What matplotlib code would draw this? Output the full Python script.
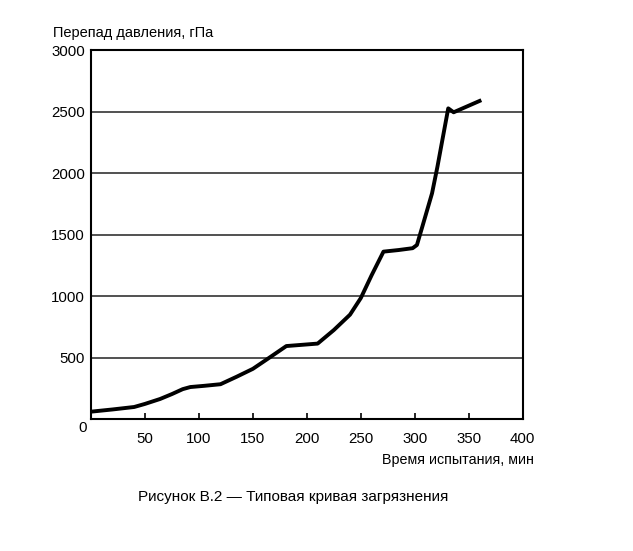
import numpy as np
import matplotlib
matplotlib.use("Agg")
import matplotlib.pyplot as plt

plt.rcParams['font.family'] = ['Liberation Sans', 'DejaVu Sans']

# время, мин / перепад давления, гПа
t_min = [0, 20, 40, 50, 64, 75, 85, 92, 105, 120, 135, 150, 163, 181, 210, 225,
         240, 250, 260, 271, 285, 298, 302, 307, 316, 321, 325, 331, 336, 360]
dp_hpa = [62, 80, 100, 125, 165, 205, 245, 262, 272, 285, 346, 410, 487, 595, 615, 725,
          850, 985, 1170, 1362, 1375, 1390, 1416, 1565, 1836, 2052, 2242, 2526, 2494, 2586]

xticks = [50, 100, 150, 200, 250, 300, 350, 400]
yticks = [500, 1000, 1500, 2000, 2500, 3000]

W, H = 633, 551
fig = plt.figure(figsize=(W / 100, H / 100), dpi=100)
ax = fig.add_axes([91 / W, 1 - 419.3 / H, (522.7 - 91) / W, (419.3 - 50) / H])

ax.plot(t_min, dp_hpa, color='black', lw=2.8, solid_joinstyle='round')

ax.set_xlim(0, 400)
ax.set_ylim(0, 3000)
ax.set_xticks(xticks)
ax.set_yticks(yticks)
ax.tick_params(axis='x', direction='in', length=4, width=1.2, pad=9, labelsize=10.8)
ax.tick_params(axis='y', length=0, pad=4.5, labelsize=10.8)
for y in yticks[:-1]:
    ax.axhline(y, color='#222222', lw=1.1, zorder=1)
for s in ax.spines.values():
    s.set_linewidth(1.5)

fx = lambda px: px / W
fy = lambda py: 1 - py / H
fig.text(fx(83), fy(428), '0', fontsize=10.8, ha='center', va='center')
fig.text(fx(53), fy(33), 'Перепад давления, гПа', fontsize=10.5, ha='left', va='center')
fig.text(fx(534), fy(460), 'Время испытания, мин', fontsize=10.3, ha='right', va='center')
fig.text(fx(293), fy(497), 'Рисунок В.2 — Типовая кривая загрязнения', fontsize=11,
         ha='center', va='center')

fig.savefig('out.png', dpi=100)
